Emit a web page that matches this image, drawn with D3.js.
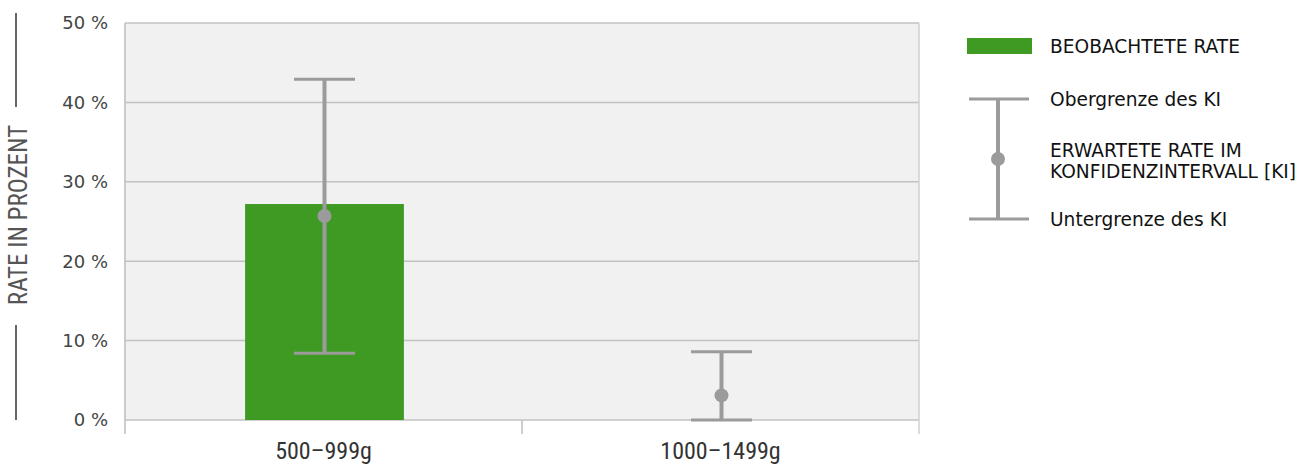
<!DOCTYPE html>
<html><head><meta charset="utf-8">
<script src="https://cdn.jsdelivr.net/npm/d3@7"></script>
<style>body{margin:0;background:#fff}svg{display:block}</style>
</head><body>
<svg id="c" width="1311" height="466"></svg>
<script>
const categories = ["500–999g", "1000–1499g"];
const observed = [27.2, null];
const expected = [25.7, 3.1];
const ciUpper = [42.9, 8.6];
const ciLower = [8.4, 0];
const yTicks = [0, 10, 20, 30, 40, 50];
const yTickLabels = ["0 %", "10 %", "20 %", "30 %", "40 %", "50 %"];
const legendLabels = ["BEOBACHTETE RATE", "Obergrenze des KI", "ERWARTETE RATE IM", "KONFIDENZINTERVALL [KI]", "Untergrenze des KI"];
const yTitle = "RATE IN PROZENT";

const svg = d3.select("#c");
const L = 125, R = 919, T = 23, B = 420;
const x = d3.scaleBand().domain(categories).range([L, R]).padding(0);
const y = d3.scaleLinear().domain([0, 50]).range([B, T]);
const green = "#3f9a23", grey = "#9b9b9b";
const sans = "'DejaVu Sans', Verdana, sans-serif";
const narrow = "'Liberation Sans Narrow', 'Roboto Condensed', Roboto, sans-serif";

svg.append("rect").attr("x", L).attr("y", T).attr("width", R - L).attr("height", B - T).attr("fill", "#f1f1f1");

// grid
svg.append("g").selectAll("line").data(yTicks).join("line")
  .attr("x1", L).attr("x2", R).attr("y1", d => y(d)).attr("y2", d => y(d))
  .attr("stroke", "#c2c2c2").attr("stroke-width", 1.5);

// left/right border
svg.append("line").attr("x1", L).attr("x2", L).attr("y1", T).attr("y2", 434).attr("stroke", "#bdbdbd").attr("stroke-width", 1.5);
svg.append("line").attr("x1", R).attr("x2", R).attr("y1", T).attr("y2", 434).attr("stroke", "#d0d0d0").attr("stroke-width", 1.5);
svg.append("g").selectAll("line").data(categories.slice(1)).join("line")
  .attr("x1", d => x(d)).attr("x2", d => x(d)).attr("y1", B).attr("y2", 434)
  .attr("stroke", "#bdbdbd").attr("stroke-width", 1.5);

// y tick labels
svg.append("g").selectAll("text").data(yTicks).join("text")
  .attr("x", 108).attr("y", d => y(d)).attr("dy", "0.35em").attr("text-anchor", "end")
  .attr("font-family", sans).attr("font-size", 18).attr("fill", "#444")
  .text((d, i) => yTickLabels[i]);

// x labels
svg.append("g").selectAll("text").data(categories).join("text")
  .attr("x", d => x(d) + x.bandwidth() / 2).attr("y", 459).attr("text-anchor", "middle")
  .attr("font-family", narrow).attr("font-size", 24).attr("fill", "#333")
  .text(d => d);

// y title
svg.append("text").attr("transform", "translate(27,215) rotate(-90)").attr("text-anchor", "middle")
  .attr("font-family", narrow).attr("font-size", 25).attr("fill", "#555")
  .text(yTitle);
svg.append("line").attr("x1", 16).attr("x2", 16).attr("y1", 13).attr("y2", 107).attr("stroke", "#666").attr("stroke-width", 2);
svg.append("line").attr("x1", 16).attr("x2", 16).attr("y1", 325).attr("y2", 420).attr("stroke", "#666").attr("stroke-width", 2);

// bars
const bw = x.bandwidth() * 0.4;
svg.append("g").selectAll("rect").data(categories.filter((d, i) => observed[i] != null)).join("rect")
  .attr("x", d => x(d) + x.bandwidth() / 2 - bw / 2 + 1)
  .attr("width", bw)
  .attr("y", d => y(observed[categories.indexOf(d)]))
  .attr("height", d => B - y(observed[categories.indexOf(d)]))
  .attr("fill", green);

// error bars
const capW = 61;
const cx = d => x(d) + x.bandwidth() / 2 + 1;
const eg = svg.append("g").selectAll("g").data(categories).join("g");
eg.append("line").attr("x1", cx).attr("x2", cx)
  .attr("y1", (d, i) => y(ciUpper[i])).attr("y2", (d, i) => y(ciLower[i]))
  .attr("stroke", grey).attr("stroke-width", 4);
eg.append("line").attr("x1", d => cx(d) - capW / 2).attr("x2", d => cx(d) + capW / 2)
  .attr("y1", (d, i) => y(ciUpper[i])).attr("y2", (d, i) => y(ciUpper[i]))
  .attr("stroke", grey).attr("stroke-width", 3);
eg.append("line").attr("x1", d => cx(d) - capW / 2).attr("x2", d => cx(d) + capW / 2)
  .attr("y1", (d, i) => y(ciLower[i])).attr("y2", (d, i) => y(ciLower[i]))
  .attr("stroke", grey).attr("stroke-width", 3);
eg.append("circle").attr("cx", cx).attr("cy", (d, i) => y(expected[i]))
  .attr("r", 7).attr("fill", grey);

// legend
const lg = svg.append("g").attr("font-family", sans).attr("font-size", 18.6).attr("fill", "#111");
lg.append("rect").attr("x", 967).attr("y", 38).attr("width", 65).attr("height", 16).attr("fill", green);
lg.append("line").attr("x1", 998).attr("x2", 998).attr("y1", 99).attr("y2", 219).attr("stroke", grey).attr("stroke-width", 4);
lg.append("line").attr("x1", 969).attr("x2", 1029).attr("y1", 99).attr("y2", 99).attr("stroke", grey).attr("stroke-width", 3);
lg.append("line").attr("x1", 969).attr("x2", 1029).attr("y1", 219).attr("y2", 219).attr("stroke", grey).attr("stroke-width", 3);
lg.append("circle").attr("cx", 998).attr("cy", 159).attr("r", 7).attr("fill", grey);
const ly = [46, 99, 150, 171, 219];
lg.selectAll("text").data(legendLabels).join("text")
  .attr("x", 1050).attr("y", (d, i) => ly[i]).attr("dy", "0.35em").attr("fill", "#111").text(d => d);
</script>
</body></html>
